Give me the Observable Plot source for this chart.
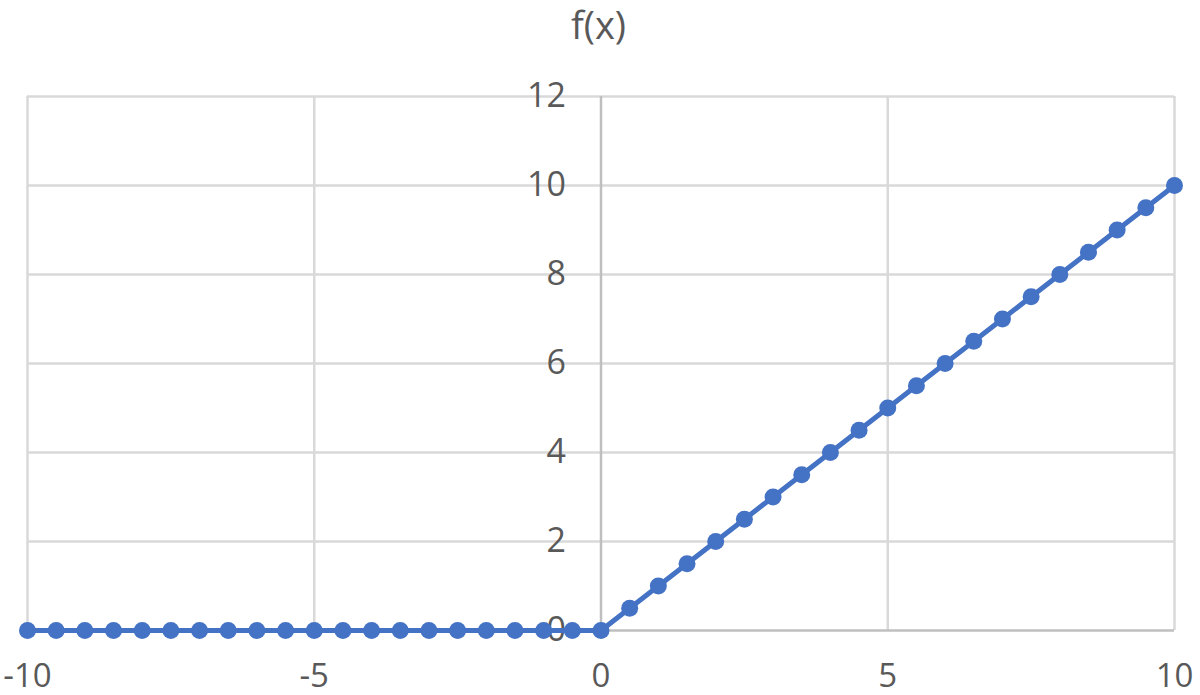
<!DOCTYPE html>
<html>
<head>
<meta charset="utf-8">
<script src="https://cdn.jsdelivr.net/npm/d3@7"></script>
<script src="https://cdn.jsdelivr.net/npm/@observablehq/plot@0.6"></script>
<style>
  html, body { margin: 0; padding: 0; background: #fff; }
  #title { height: 46px; padding-top: 2px; line-height: 1.2; text-align: center; font-family: "Open Sans", sans-serif; font-size: 38px; color: #595959; width: 1197px; }
  #chart svg { display: block; }
</style>
</head>
<body>
<div id="title">f(x)</div>
<div id="chart"></div>
<script>
const xValues = [-10, -9.5, -9, -8.5, -8, -7.5, -7, -6.5, -6, -5.5, -5, -4.5, -4, -3.5, -3, -2.5, -2, -1.5, -1, -0.5,
  0, 0.5, 1, 1.5, 2, 2.5, 3, 3.5, 4, 4.5, 5, 5.5, 6, 6.5, 7, 7.5, 8, 8.5, 9, 9.5, 10];
const yValues = [0, 0, 0, 0, 0, 0, 0, 0, 0, 0, 0, 0, 0, 0, 0, 0, 0, 0, 0, 0,
  0, 0.5, 1, 1.5, 2, 2.5, 3, 3.5, 4, 4.5, 5, 5.5, 6, 6.5, 7, 7.5, 8, 8.5, 9, 9.5, 10];
const xTicks = [-10, -5, 0, 5, 10];
const yTicks = [0, 2, 4, 6, 8, 10, 12];

const data = xValues.map((x, i) => ({x, y: yValues[i]}));
const xGrid = xTicks.filter(d => d !== 0);
const yGrid = yTicks.filter(d => d !== 0);

const chart = Plot.plot({
  width: 1200,
  height: 647,
  marginLeft: 27,
  marginRight: 26,
  marginTop: 48,
  marginBottom: 65,
  x: {domain: [-10, 10], axis: null},
  y: {domain: [0, 12], axis: null},
  style: {fontFamily: "Open Sans, sans-serif", background: "#fff", overflow: "visible"},
  marks: [
    Plot.ruleX(xGrid, {stroke: "#d9d9d9", strokeWidth: 2.5}),
    Plot.ruleY(yGrid, {stroke: "#d9d9d9", strokeWidth: 2.5}),
    Plot.ruleX([0], {stroke: "#bfbfbf", strokeWidth: 2.5}),
    Plot.ruleY([0], {stroke: "#bfbfbf", strokeWidth: 2.5}),
    Plot.text(yTicks, {x: () => 0, y: d => d, text: d => String(d), textAnchor: "end", dx: -35, fontSize: 34, fill: "#595959", lineAnchor: "middle"}),
    Plot.text(xTicks, {x: d => d, y: () => 0, text: d => String(d), textAnchor: "middle", dy: 46, fontSize: 33, fill: "#595959", lineAnchor: "middle"}),
    Plot.line(data, {x: "x", y: "y", stroke: "#4472c4", strokeWidth: 5}),
    Plot.dot(data, {x: "x", y: "y", r: 8.5, fill: "#4472c4", stroke: "none"})
  ]
});
document.getElementById("chart").appendChild(chart);
</script>
</body>
</html>
